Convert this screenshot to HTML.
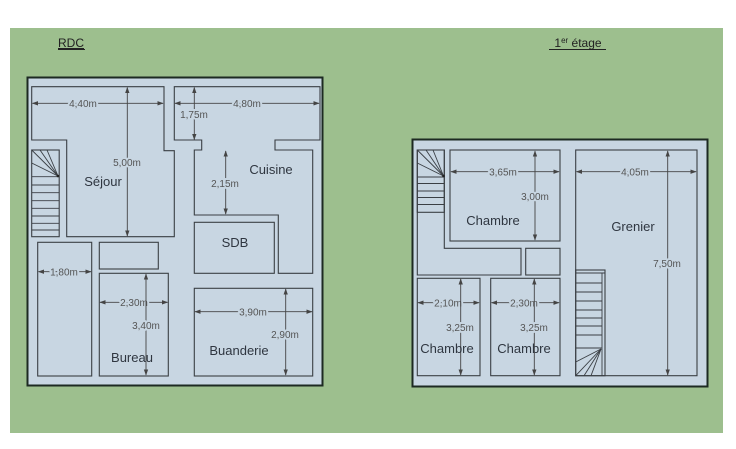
<!DOCTYPE html>
<html><head><meta charset="utf-8"><style>
html,body{margin:0;padding:0;background:#fff;}
svg{display:block;font-family:"Liberation Sans",sans-serif;}
.w{fill:none;stroke:#3a3f44;stroke-width:1.1;}
.d{stroke:#444;stroke-width:0.9;fill:none;marker-start:url(#a);marker-end:url(#a);}
.dl{font-size:10px;fill:#555;text-anchor:middle;paint-order:stroke;stroke:#c8d6e2;stroke-width:4px;stroke-linejoin:round;}
.r{font-size:13px;fill:#2f3640;text-anchor:middle;}
.s{stroke:#3a3f44;stroke-width:0.9;}
</style></head><body>
<svg width="736" height="449" viewBox="0 0 736 449" xmlns="http://www.w3.org/2000/svg">
<defs><marker id="a" viewBox="0 0 10 10" refX="9" refY="5" markerWidth="7" markerHeight="7" orient="auto-start-reverse"><path d="M0,1.5 L10,5 L0,8.5 z" fill="#444"/></marker></defs>
<rect x="10" y="28" width="713" height="405" fill="#9dbf8e"/>
<text x="71" y="47" font-size="12" fill="#222" text-anchor="middle" text-decoration="underline">RDC</text>
<line x1="58" y1="49.5" x2="85" y2="49.5" stroke="#222" stroke-width="1"/>
<text x="578" y="47" font-size="12" fill="#222" text-anchor="middle">1<tspan font-size="8" dy="-4">er</tspan><tspan dy="4"> étage</tspan></text>
<line x1="549" y1="49.5" x2="606" y2="49.5" stroke="#222" stroke-width="1"/>

<!-- RDC -->
<rect x="27.5" y="77.5" width="295" height="308" fill="#c8d6e2" stroke="#1d2a22" stroke-width="2"/>
<polygon class="w" points="31.7,86.7 164,86.7 164,150.7 174.3,150.7 174.3,236.7 66.7,236.7 66.7,140 31.7,140"/>
<rect class="w" x="31.7" y="150" width="27.5" height="86.7"/>
<g class="s">
<line x1="31.7" y1="176.7" x2="59.2" y2="176.7"/><line x1="31.7" y1="185" x2="59.2" y2="185"/><line x1="31.7" y1="192.7" x2="59.2" y2="192.7"/><line x1="31.7" y1="200.7" x2="59.2" y2="200.7"/><line x1="31.7" y1="208.3" x2="59.2" y2="208.3"/><line x1="31.7" y1="216" x2="59.2" y2="216"/><line x1="31.7" y1="223.3" x2="59.2" y2="223.3"/><line x1="31.7" y1="230" x2="59.2" y2="230"/>
<line x1="58" y1="176" x2="31.7" y2="150"/><line x1="58" y1="176" x2="40" y2="150"/><line x1="58" y1="176" x2="47" y2="150"/><line x1="58" y1="176" x2="31.7" y2="163"/>
</g>
<circle cx="58" cy="176" r="1.3" fill="#222"/>
<polygon class="w" points="174.3,86.7 320,86.7 320,140 275,140 275,150 312.7,150 312.7,273.3 278.3,273.3 278.3,215 194.3,215 194.3,150 201.7,150 201.7,140 174.3,140"/>
<rect class="w" x="194.3" y="222.3" width="80" height="51"/>
<rect class="w" x="37.7" y="242.3" width="54" height="133.7"/>
<rect class="w" x="99.3" y="242.3" width="59" height="26.7"/>
<rect class="w" x="99.3" y="273.3" width="69" height="102.7"/>
<rect class="w" x="194.3" y="288.3" width="118.4" height="87.7"/>

<line class="d" x1="32.5" y1="103.3" x2="163" y2="103.3"/><text class="dl" x="83" y="107">4,40m</text>
<line class="d" x1="127.3" y1="87.5" x2="127.3" y2="236"/><text class="dl" x="127" y="166">5,00m</text>
<line class="d" x1="175" y1="103.3" x2="319" y2="103.3"/><text class="dl" x="247" y="107">4,80m</text>
<line class="d" x1="194.3" y1="87.5" x2="194.3" y2="139.5"/><text class="dl" x="194" y="118">1,75m</text>
<line class="d" x1="225.7" y1="151" x2="225.7" y2="214"/><text class="dl" x="225" y="187">2,15m</text>
<line class="d" x1="38.5" y1="271.7" x2="91" y2="271.7"/><text class="dl" x="64" y="275.5">1,80m</text>
<line class="d" x1="100" y1="302.3" x2="167.5" y2="302.3"/><text class="dl" x="134" y="306">2,30m</text>
<line class="d" x1="146" y1="274" x2="146" y2="375"/><text class="dl" x="146" y="329">3,40m</text>
<line class="d" x1="195" y1="311.7" x2="312" y2="311.7"/><text class="dl" x="253" y="315.5">3,90m</text>
<line class="d" x1="285.7" y1="289" x2="285.7" y2="375"/><text class="dl" x="285" y="338">2,90m</text>
<text class="r" x="103" y="186">Séjour</text>
<text class="r" x="271" y="174">Cuisine</text>
<text class="r" x="235" y="247">SDB</text>
<text class="r" x="132" y="362">Bureau</text>
<text class="r" x="239" y="355">Buanderie</text>

<!-- 1er -->
<rect x="412.5" y="139.5" width="295" height="247" fill="#c8d6e2" stroke="#1d2a22" stroke-width="2"/>
<polygon class="w" points="417.3,150 444.3,150 444.3,248.3 521,248.3 521,275 417.3,275"/>
<rect class="w" x="417.3" y="150" width="27" height="62.3"/>
<g class="s">
<line x1="417.3" y1="177" x2="444.3" y2="177"/><line x1="417.3" y1="183.5" x2="444.3" y2="183.5"/><line x1="417.3" y1="191" x2="444.3" y2="191"/><line x1="417.3" y1="197.5" x2="444.3" y2="197.5"/><line x1="417.3" y1="204.5" x2="444.3" y2="204.5"/>
<line x1="443.5" y1="176" x2="417.3" y2="150"/><line x1="443.5" y1="176" x2="426" y2="150"/><line x1="443.5" y1="176" x2="433" y2="150"/><line x1="443.5" y1="176" x2="417.3" y2="163"/>
</g>
<circle cx="443.5" cy="176" r="1.3" fill="#222"/>
<rect class="w" x="450" y="150" width="110" height="91"/>
<rect class="w" x="525.7" y="248.3" width="34.3" height="26.7"/>
<rect class="w" x="417.3" y="278.3" width="62.7" height="97.4"/>
<rect class="w" x="490.7" y="278.3" width="69.3" height="97.4"/>
<rect class="w" x="575.7" y="150" width="121.3" height="225.7"/>
<rect class="w" x="575.7" y="270" width="29.3" height="105.7"/>
<g class="s">
<line x1="602" y1="273" x2="602" y2="375.7"/><line x1="575.7" y1="273" x2="605" y2="273"/>
<line x1="575.7" y1="283" x2="602" y2="283"/><line x1="575.7" y1="292" x2="602" y2="292"/><line x1="575.7" y1="301" x2="602" y2="301"/><line x1="575.7" y1="310" x2="602" y2="310"/><line x1="575.7" y1="318" x2="602" y2="318"/><line x1="575.7" y1="326" x2="602" y2="326"/><line x1="575.7" y1="335" x2="602" y2="335"/><line x1="575.7" y1="348" x2="602" y2="348"/>
<line x1="601" y1="349" x2="575.7" y2="375.7"/><line x1="601" y1="349" x2="584" y2="375.7"/><line x1="601" y1="349" x2="591" y2="375.7"/><line x1="601" y1="349" x2="575.7" y2="362"/>
</g>
<line class="d" x1="451" y1="171.7" x2="559" y2="171.7"/><text class="dl" x="503" y="175.5">3,65m</text>
<line class="d" x1="535" y1="151" x2="535" y2="240"/><text class="dl" x="535" y="200">3,00m</text>
<line class="d" x1="576.5" y1="171.7" x2="696" y2="171.7"/><text class="dl" x="635" y="175.5">4,05m</text>
<line class="d" x1="667.7" y1="151" x2="667.7" y2="375"/><text class="dl" x="667" y="267">7,50m</text>
<line class="d" x1="418" y1="302.7" x2="479" y2="302.7"/><text class="dl" x="448" y="306.5">2,10m</text>
<line class="d" x1="460.7" y1="279" x2="460.7" y2="375"/><text class="dl" x="460" y="331">3,25m</text>
<line class="d" x1="491.5" y1="302.7" x2="559" y2="302.7"/><text class="dl" x="524" y="306.5">2,30m</text>
<line class="d" x1="534.3" y1="279" x2="534.3" y2="375"/><text class="dl" x="534" y="331">3,25m</text>
<text class="r" x="493" y="225">Chambre</text>
<text class="r" x="633" y="231">Grenier</text>
<text class="r" x="447" y="353">Chambre</text>
<text class="r" x="524" y="353">Chambre</text>
</svg>
</body></html>
